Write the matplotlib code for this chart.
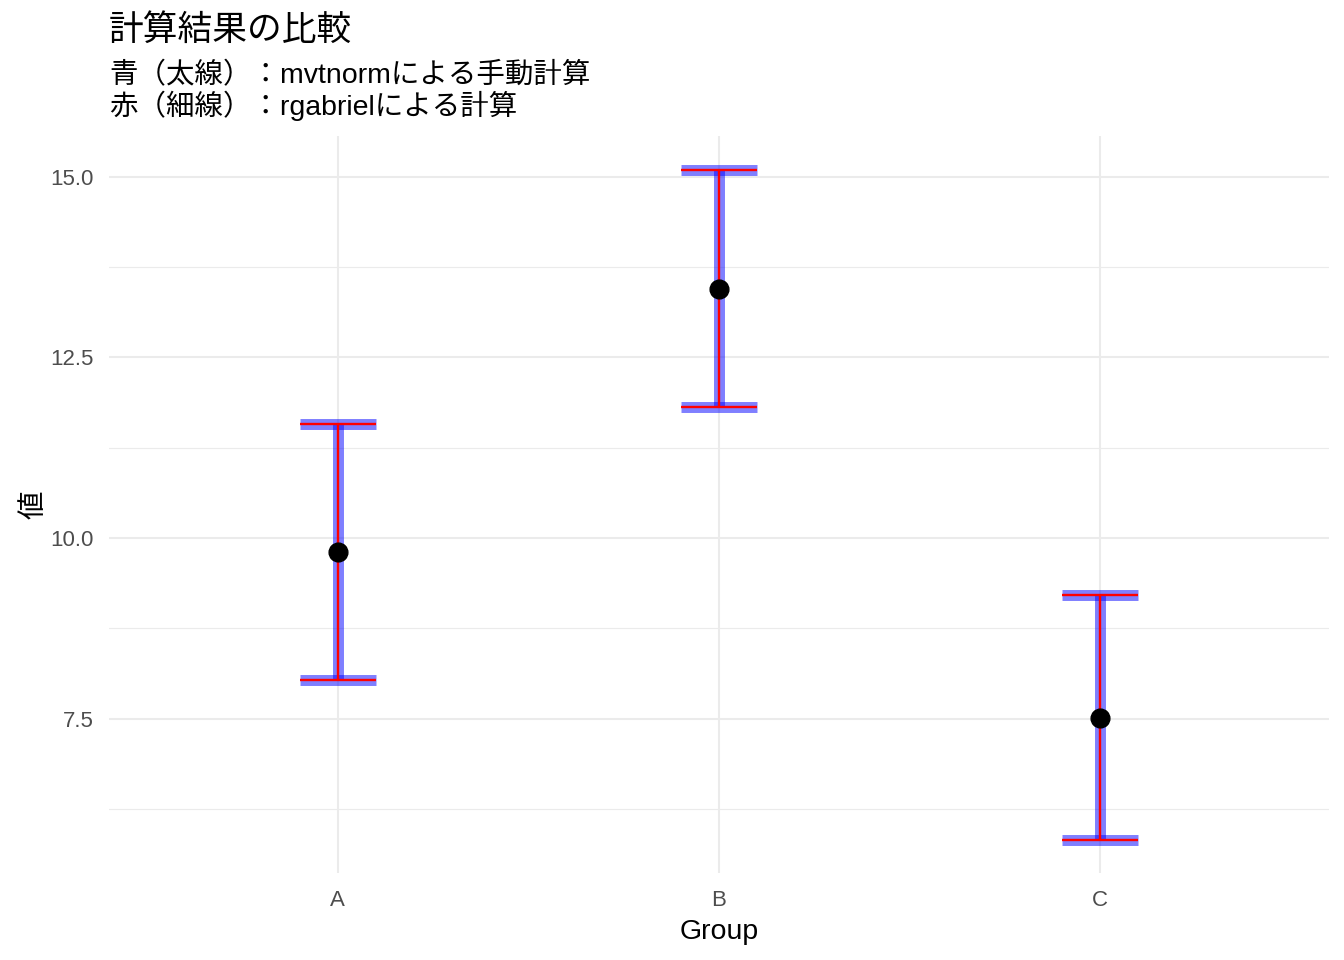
import matplotlib
matplotlib.use("Agg")
import matplotlib.pyplot as plt
import numpy as np

groups = ["A", "B", "C"]
estimate = [9.81, 13.44, 7.51]
lower = [8.035, 11.81, 5.826]
upper = [11.577, 15.10, 9.215]

FAM = ["Liberation Sans", "Noto Sans CJK JP", "DejaVu Sans"]
plt.rcParams["font.family"] = FAM

W, H = 1344, 960
fig = plt.figure(figsize=(W / 100, H / 100), dpi=100)
ax = fig.add_axes([109 / W, 1 - 873 / H, (1329 - 109) / W, (873 - 136) / H])

x = np.arange(1, len(groups) + 1)
lo = np.array(lower)
hi = np.array(upper)
half = 0.1

# blue thick (mvtnorm)
ax.vlines(x, lo, hi, colors="blue", alpha=0.5, linewidth=7.9, capstyle="butt", zorder=3)
ax.hlines(lo, x - half, x + half, colors="blue", alpha=0.5, linewidth=7.9, capstyle="butt", zorder=3)
ax.hlines(hi, x - half, x + half, colors="blue", alpha=0.5, linewidth=7.9, capstyle="butt", zorder=3)
# red thin (rgabriel)
ax.vlines(x, lo, hi, colors="red", linewidth=1.7, capstyle="butt", zorder=4)
ax.hlines(lo, x - half, x + half, colors="red", linewidth=1.7, capstyle="butt", zorder=4)
ax.hlines(hi, x - half, x + half, colors="red", linewidth=1.7, capstyle="butt", zorder=4)

ax.plot(x, estimate, "o", color="black", markersize=13.5, zorder=5)

ymin, ymax = lo.min(), hi.max()
pad = (ymax - ymin) * 0.05
ax.set_ylim(ymin - pad, ymax + pad)
ax.set_xlim(0.4, len(groups) + 0.6)

ax.set_xticks(x)
ax.set_xticklabels(groups)
ax.set_yticks([7.5, 10.0, 12.5, 15.0])
ax.set_yticklabels(["7.5", "10.0", "12.5", "15.0"])
ax.set_yticks([6.25, 8.75, 11.25, 13.75], minor=True)

ax.grid(which="major", color="#EBEBEB", linewidth=1.5, zorder=0)
ax.grid(which="minor", axis="y", color="#EBEBEB", linewidth=0.8, zorder=0)
ax.set_axisbelow(True)
for s in ax.spines.values():
    s.set_visible(False)
ax.tick_params(which="both", length=0, labelsize=16, labelcolor="#4D4D4D")
ax.tick_params(axis="x", pad=12)
ax.tick_params(axis="y", pad=11)

ax.set_xlabel("Group", fontsize=20.5, color="black", labelpad=6)
ax.set_ylabel("値", fontsize=20.5, color="black", labelpad=2)

fig.text(109 / W, 1 - 30 / H, "計算結果の比較", fontsize=25, ha="left", va="center")
fig.text(109 / W, 1 - 76 / H, "青（太線）：mvtnormによる手動計算", fontsize=20.5, ha="left", va="center")
fig.text(109 / W, 1 - 106 / H, "赤（細線）：rgabrielによる計算", fontsize=20.5, ha="left", va="center")

fig.savefig("out.png", dpi=100, facecolor="white")
